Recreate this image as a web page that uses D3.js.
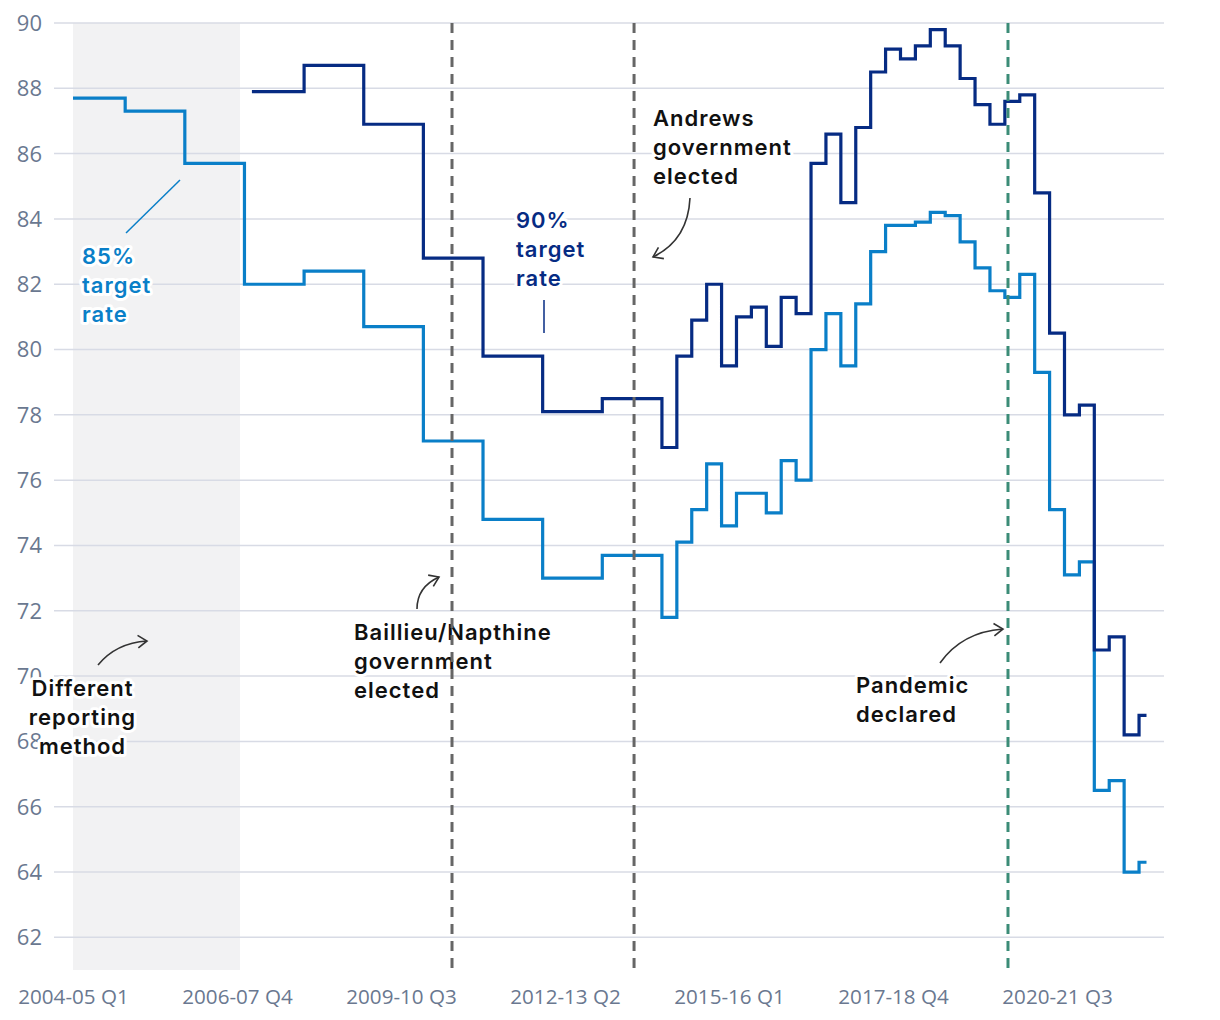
<!DOCTYPE html>
<html><head><meta charset="utf-8">
<script src="https://cdn.jsdelivr.net/npm/d3@7"></script>
<style>body{margin:0;background:#fff;} svg{display:block;}</style>
</head><body>
<svg id="chart" width="1220" height="1020"></svg>
<script>
// ---- data ----
const fiscalYears = ["2004-05","2005-06","2006-07","2007-08","2008-09","2009-10","2010-11","2011-12","2012-13","2013-14","2014-15","2015-16","2016-17","2017-18","2018-19","2019-20","2020-21","2021-22","2022-23"];
const quarterNames = ["Q1","Q2","Q3","Q4"];
const quarters = fiscalYears.flatMap(y => quarterNames.map(q => y + " " + q)).slice(0, 73);

const rate85 = [
  87.7,87.7,87.7,87.7, 87.3,87.3,87.3,87.3, 85.7,85.7,85.7,85.7,
  82.0,82.0,82.0,82.0, 82.4,82.4,82.4,82.4, 80.7,80.7,80.7,80.7,
  77.2,77.2,77.2,77.2, 74.8,74.8,74.8,74.8, 73.0,73.0,73.0,73.0,
  73.7,73.7,73.7,73.7,
  71.8,74.1,75.1,76.5,74.6,75.6,75.6,75.0,76.6,76.0,
  80.0,81.1,79.5,81.4,83.0,83.8,83.8,83.9,84.2,84.1,
  83.3,82.5,81.8,81.6,82.3,79.3,75.1,73.1,73.5,66.5,
  66.8,64.0,64.3
];
const rate90 = [
  null,null,null,null, null,null,null,null, null,null,null,null,
  87.9,87.9,87.9,87.9, 88.7,88.7,88.7,88.7, 86.9,86.9,86.9,86.9,
  82.8,82.8,82.8,82.8, 79.8,79.8,79.8,79.8, 78.1,78.1,78.1,78.1,
  78.5,78.5,78.5,78.5,
  77.0,79.8,80.9,82.0,79.5,81.0,81.3,80.1,81.6,81.1,
  85.7,86.6,84.5,86.8,88.5,89.2,88.9,89.3,89.8,89.3,
  88.3,87.5,86.9,87.6,87.8,84.8,80.5,78.0,78.3,70.8,
  71.2,68.2,68.8
];
const yTicks = [62,64,66,68,70,72,74,76,78,80,82,84,86,88,90];
const xTickLabels = ["2004-05 Q1","2006-07 Q4","2009-10 Q3","2012-13 Q2","2015-16 Q1","2017-18 Q4","2020-21 Q3"];
const bandStart = 0, bandEnd = 11.2;            // different reporting method (quarter index)
const eventPos = [25.42, 37.63, 62.71];         // quarter index of vertical event markers
const eventKind = ["election","election","pandemic"];

// ---- drawing ----
const svg = d3.select("#chart");
const x = d3.scaleLinear().domain([0, 72]).range([73, 1146.5]);
const y = d3.scaleLinear().domain([61, 90]).range([970, 23]);
const gridX0 = 54, gridX1 = 1164;

const C85 = "#0a7fc8", C90 = "#062b83";
const tickColor = "#6a7890";
const tickFont = "'Open Sans', Roboto, sans-serif";

// band
svg.append("rect")
  .attr("x", x(bandStart)).attr("y", y(90))
  .attr("width", x(bandEnd) - x(bandStart)).attr("height", y(61) - y(90))
  .attr("fill", "#f2f2f3");

// grid
svg.append("g").selectAll("line").data(yTicks).join("line")
  .attr("x1", gridX0).attr("x2", gridX1)
  .attr("y1", d => y(d)).attr("y2", d => y(d))
  .attr("stroke", "#d8dbe5").attr("stroke-width", 1.5);

// y axis labels
svg.append("g").selectAll("text").data(yTicks).join("text")
  .attr("x", 42).attr("y", d => y(d))
  .attr("dy", "0.36em")
  .attr("text-anchor", "end")
  .attr("font-family", tickFont).attr("font-weight", 400)
  .attr("font-size", 22).attr("fill", tickColor)
  .text(d => d);

// x axis labels
const xAxis = d3.axisBottom(x)
  .tickValues(xTickLabels.map(l => quarters.indexOf(l)))
  .tickFormat(i => quarters[i]).tickSize(0).tickPadding(0);
const gx = svg.append("g").attr("transform", "translate(0,1003.5)").call(xAxis);
gx.select(".domain").remove();
gx.selectAll("text").attr("dy", 0)
  .attr("font-family", tickFont).attr("font-weight", 400)
  .attr("font-size", 20.6).attr("fill", tickColor);

// lines
const line = d3.line().defined(d => d != null).curve(d3.curveStep)
  .x((d, i) => x(i)).y(d => y(d));
svg.append("path").datum(rate85).attr("d", line)
  .attr("fill", "none").attr("stroke", C85).attr("stroke-width", 3.2);
svg.append("path").datum(rate90).attr("d", line)
  .attr("fill", "none").attr("stroke", C90).attr("stroke-width", 3.2);

// annotations
function label(lines, px, py, color, anchor) {
  const t = svg.append("text")
    .attr("font-family", "Inter, 'Noto Sans', sans-serif").attr("font-weight", 600)
    .attr("font-size", 22).attr("letter-spacing", "1px").attr("fill", color)
    .attr("text-anchor", anchor || "start")
    .attr("stroke", "#fff").attr("stroke-width", 6).attr("stroke-linejoin", "round")
    .attr("paint-order", "stroke");
  lines.forEach((l, i) => t.append("tspan").attr("x", px).attr("y", py + i * 28.8).text(l));
}
function arrow(x0, y0, cx, cy, x1, y1, head) {
  svg.append("path").attr("d", `M${x0},${y0}Q${cx},${cy} ${x1},${y1}`)
    .attr("fill", "none").attr("stroke", "#333").attr("stroke-width", 1.6);
  if (head) {
    const a = Math.atan2(y1 - cy, x1 - cx), L = 11, s = 0.6;
    svg.append("path")
      .attr("d", `M${x1 - L * Math.cos(a - s)},${y1 - L * Math.sin(a - s)}L${x1},${y1}L${x1 - L * Math.cos(a + s)},${y1 - L * Math.sin(a + s)}`)
      .attr("fill", "none").attr("stroke", "#333").attr("stroke-width", 1.6);
  }
}

// series labels
svg.append("line").attr("x1", 126).attr("y1", 233).attr("x2", 180).attr("y2", 180)
  .attr("stroke", C85).attr("stroke-width", 1.5);
label(["85%", "target", "rate"], 82, 264, C85);
svg.append("line").attr("x1", 544).attr("y1", 300).attr("x2", 544).attr("y2", 333)
  .attr("stroke", C90).attr("stroke-width", 1.5);
label(["90%", "target", "rate"], 516, 228, C90);

// event labels
label(["Andrews", "government", "elected"], 653, 126, "#111");
arrow(690, 198, 688, 240, 653, 257, true);
label(["Baillieu/Napthine", "government", "elected"], 354, 640, "#111");
arrow(417, 609, 417, 587, 439, 577, true);
label(["Different", "reporting", "method"], 82.5, 696, "#111", "middle");
arrow(98, 665, 116, 643, 147, 641, true);
label(["Pandemic", "declared"], 856, 693, "#111");
arrow(940, 663, 962, 632, 1003, 629, true);

// event lines (on top)
svg.append("g").selectAll("line").data(eventPos).join("line")
  .attr("x1", d => x(d)).attr("x2", d => x(d))
  .attr("y1", y(90)).attr("y2", y(61))
  .attr("stroke", (d, i) => eventKind[i] === "pandemic" ? "#3b8c77" : "#666666")
  .attr("stroke-width", 3).attr("stroke-dasharray", "10,7");
</script>
</body></html>
